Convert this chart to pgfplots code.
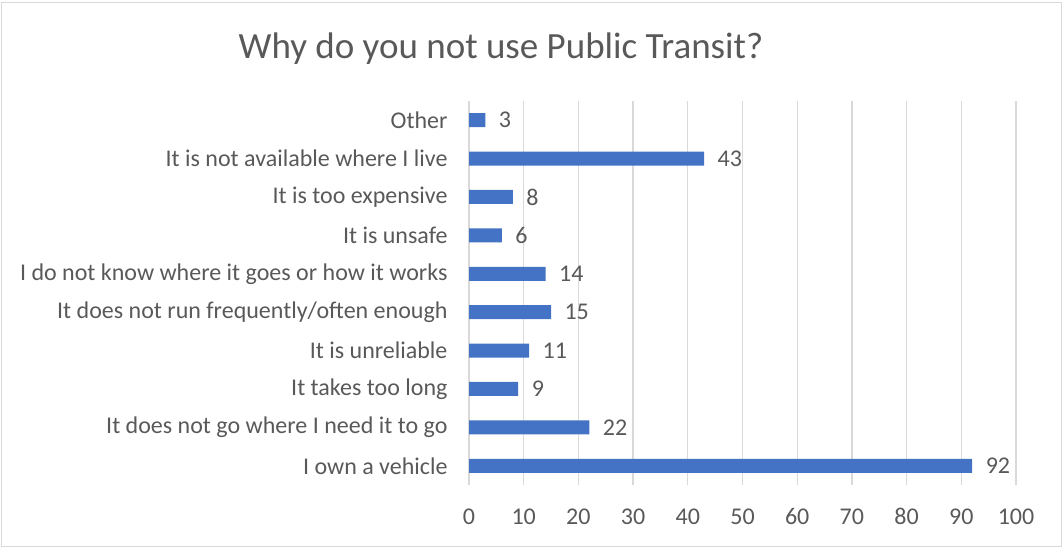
\documentclass[border=0pt]{standalone}
\usepackage{pgfplots}
\pgfplotsset{compat=1.18}
\usepackage{fontspec}
\setmainfont{Carlito}
\definecolor{barblue}{HTML}{4472C4}
\definecolor{txt}{HTML}{595959}
\definecolor{gridc}{HTML}{D9D9D9}
\begin{document}
\begin{tikzpicture}
\path[use as bounding box] (0,0) rectangle (1063bp,548bp);
\draw[gridc, line width=1.5bp] (1.5bp,1.5bp) rectangle (1061.5bp,545.5bp);
\node[txt, font=\fontsize{37bp}{44bp}\selectfont] at (501bp,499bp) {Why do you not use Public Transit?};
\begin{axis}[
  at={(469bp,63bp)}, anchor=south west,
  width=547bp, height=384bp, scale only axis,
  xbar, bar width=14bp,
  xmin=0, xmax=100, ymin=-0.5, ymax=9.5,
  xtick={0,10,...,100},
  ytick={0,...,9},
  yticklabels={I own a vehicle, It does not go where I need it to go, It takes too long, It is unreliable, It does not run frequently/often enough, I do not know where it goes or how it works, It is unsafe, It is too expensive, It is not available where I live, Other},
  xmajorgrids, grid style={gridc, line width=1.3bp},
  axis line style={draw=none},
  major tick length=0pt,
  /pgf/number format/assume math mode=true,
  tick label style={txt, font=\fontsize{24bp}{29bp}\selectfont},
  xticklabel style={yshift=-20bp},
  yticklabel style={xshift=-18bp},
  nodes near coords,
  nodes near coords style={txt, font=\fontsize{24bp}{29bp}\selectfont, xshift=10bp},
]
\addplot[fill=barblue, draw=none] coordinates {
(92,0) (22,1) (9,2) (11,3) (15,4) (14,5) (6,6) (8,7) (43,8) (3,9)
};
\end{axis}
\end{tikzpicture}
\end{document}
